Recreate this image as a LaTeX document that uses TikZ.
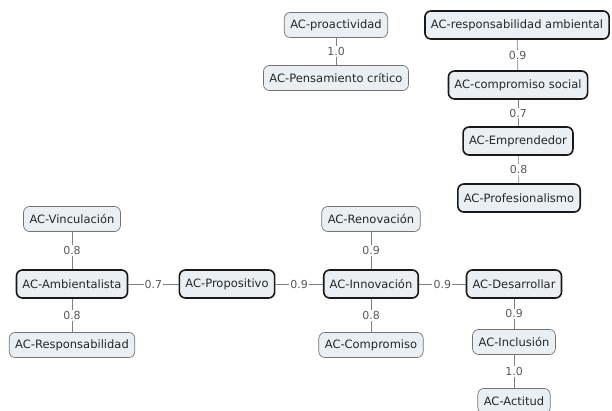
\documentclass[tikz,border=0pt]{standalone}
\usepackage{fontspec}
\setmainfont{DejaVu Sans}
\begin{document}
\begin{tikzpicture}[x=1pt,y=-1pt,
  concept/.style={draw=black!55, line width=0.7pt, rounded corners=6pt, fill=boxfill,
    inner xsep=6pt, inner ysep=0pt, minimum height=25pt, font=\fontsize{11.5}{13}\selectfont, text=black!85},
  strong/.style={concept, draw=black!90, line width=1.6pt, minimum height=28pt},
  link/.style={draw=black!50, line width=0.7pt},
  lab/.style={fill=white, inner sep=1.2pt, font=\fontsize{11}{12}\selectfont, text=black!65}]
\definecolor{boxfill}{HTML}{E9EFF3}
\useasboundingbox (0,0) rectangle (612,410);
\fill[white] (0,0) rectangle (612,410);

\node[concept] (proa) at (336,25) {AC-proactividad};
\node[concept] (pens) at (336,78) {AC-Pensamiento crítico};
\node[strong] (resa) at (517,25) {AC-responsabilidad ambiental};
\node[strong] (comps) at (518,85) {AC-compromiso social};
\node[strong] (empr) at (518,141) {AC-Emprendedor};
\node[strong] (prof) at (519,198) {AC-Profesionalismo};

\node[concept] (vinc) at (72,219) {AC-Vinculación};
\node[strong] (amb) at (72,284) {AC-Ambientalista};
\node[concept] (resp) at (72,345) {AC-Responsabilidad};
\node[strong] (prop) at (227,284) {AC-Propositivo};
\node[concept] (reno) at (371,219) {AC-Renovación};
\node[strong] (inno) at (371,284) {AC-Innovación};
\node[concept] (comp) at (371,345) {AC-Compromiso};
\node[strong] (desa) at (514,284) {AC-Desarrollar};
\node[concept] (incl) at (514,342) {AC-Inclusión};
\node[concept] (acti) at (514,401) {AC-Actitud};

\draw[link] (proa) -- node[lab] {1.0} (pens);
\draw[link] (resa) -- node[lab] {0.9} (comps);
\draw[link] (comps) -- node[lab] {0.7} (empr);
\draw[link] (empr) -- node[lab] {0.8} (prof);
\draw[link] (vinc) -- node[lab] {0.8} (amb);
\draw[link] (amb) -- node[lab] {0.8} (resp);
\draw[link] (amb) -- node[lab] {0.7} (prop);
\draw[link] (prop) -- node[lab] {0.9} (inno);
\draw[link] (reno) -- node[lab] {0.9} (inno);
\draw[link] (inno) -- node[lab] {0.8} (comp);
\draw[link] (inno) -- node[lab] {0.9} (desa);
\draw[link] (desa) -- node[lab] {0.9} (incl);
\draw[link] (incl) -- node[lab] {1.0} (acti);
\end{tikzpicture}
\end{document}
